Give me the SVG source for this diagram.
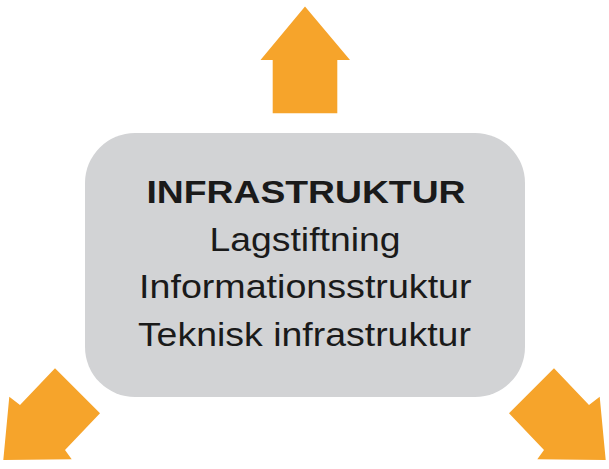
<svg xmlns="http://www.w3.org/2000/svg" width="609" height="469" viewBox="0 0 609 469">
<style>
.arrow{fill:#f6a42b}
.box{fill:#d2d3d5}
.t{font-family:"Liberation Sans",Arial,sans-serif;fill:#1a1a1a;text-anchor:middle;font-size:33px}
.b{font-weight:bold;font-size:32px}
</style>
<rect width="609" height="469" fill="#ffffff"/>
<g id="arrows">
<polygon id="arrow-top" class="arrow" points="305,6.5 350,60 337.3,60 337.3,113.3 272.7,113.3 272.7,60 260.5,60"/>
<polygon id="arrow-left" class="arrow" points="3.3,460 9.3,396.7 20,405 55,368.3 100,413.3 65,450 71.7,459.3"/>
<polygon id="arrow-right" class="arrow" points="605.7,460 599.7,396.7 589,405 554,368.3 509,413.3 544,450 537.3,459.3"/>
</g>
<g id="node-infrastruktur">
<rect class="box" x="85" y="133" width="440" height="264" rx="50" ry="50"/>
<text class="t b" x="306" y="203" textLength="319" lengthAdjust="spacingAndGlyphs">INFRASTRUKTUR</text>
<text class="t" x="305" y="250.5" textLength="191" lengthAdjust="spacingAndGlyphs">Lagstiftning</text>
<text class="t" x="305.3" y="298" textLength="332.5" lengthAdjust="spacingAndGlyphs">Informationsstruktur</text>
<text class="t" x="304.4" y="345.5" textLength="333" lengthAdjust="spacingAndGlyphs">Teknisk infrastruktur</text>
</g>
</svg>
